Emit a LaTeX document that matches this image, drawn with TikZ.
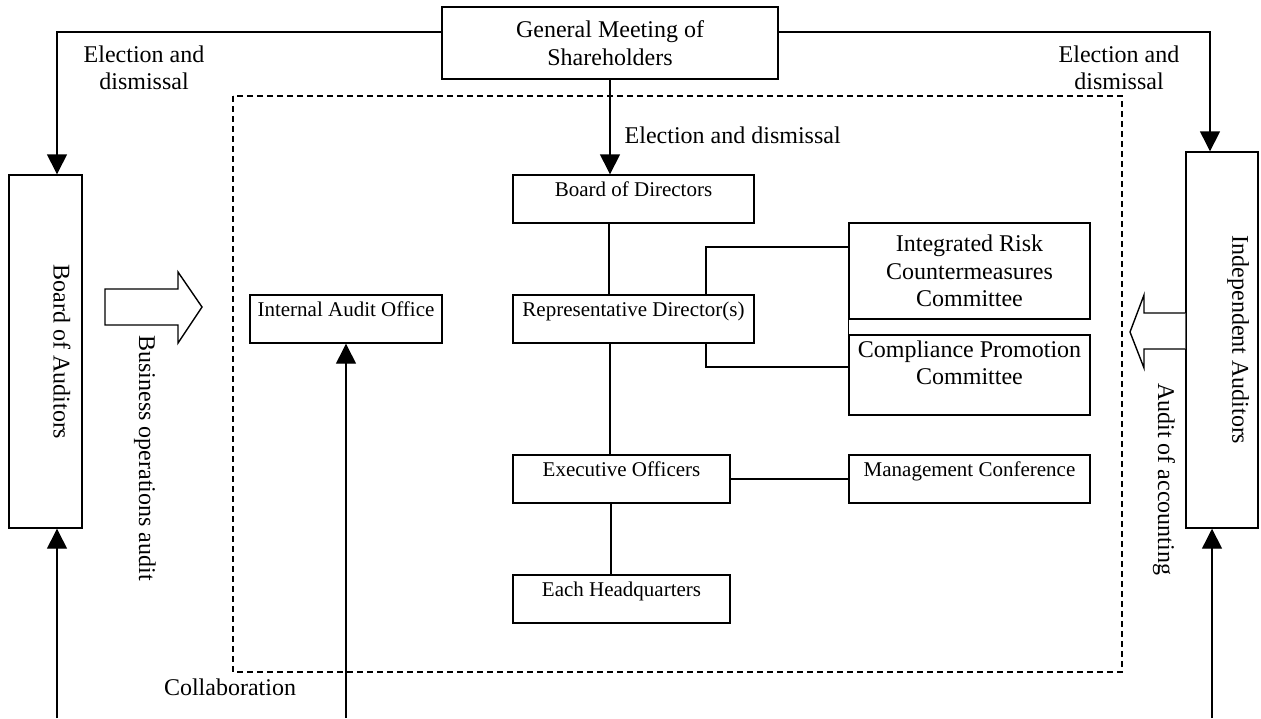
\documentclass[tikz,border=0pt]{standalone}
\usepackage{fontspec}
\setmainfont{Liberation Serif}
\usetikzlibrary{calc}
\usetikzlibrary{arrows.meta}
\tikzstyle{orgbox}=[draw,line width=.7pt,inner sep=0pt]
\tikzstyle{unit}=[orgbox,font=\fontsize{10.5}{12}\selectfont,text height=10.5pt,text depth=13.5pt]
\tikzstyle{panel}=[orgbox,font=\fontsize{12}{13.75}\selectfont,align=center]
\tikzstyle{lbl}=[inner sep=0pt,font=\fontsize{12}{13.5}\selectfont,align=center]
\tikzstyle{vlbl}=[lbl,rotate=-90]
\tikzstyle{auditframe}=[dash pattern=on 3pt off 2pt,line width=.7pt]
\tikzstyle{hollow}=[draw,line width=.7pt,fill=white]

\begin{document}
\begin{tikzpicture}[x=.5pt,y=-.5pt,line width=.7pt,>={Triangle[length=10pt,width=10pt]}]
	\useasboundingbox (0,0) rectangle (1261,718);
	\draw[auditframe] (233,96) rectangle (1122,672);
	\node[panel,minimum width=168pt,minimum height=36pt] (gms) at (610,43) {General Meeting of\\Shareholders};
	\node[unit,minimum width=120.5pt] (bod) at (633.5,199) {Board of Directors};
	\node[unit,minimum width=120.5pt] (rd) at (633.5,319) {Representative Director(s)};
	\node[unit,minimum width=108.5pt] (eo) at (621.5,479) {Executive Officers};
	\node[unit,minimum width=108.5pt] (eh) at (621.5,599) {Each Headquarters};
	\node[unit,minimum width=120.5pt] (mc) at (969.5,479) {Management Conference};
	\node[unit,minimum width=96pt] (iao) at (346,319) {Internal Audit Office};
	\node[panel,minimum width=120.5pt,minimum height=48pt] (ircc) at (969.5,271) {Integrated Risk\\Countermeasures\\Committee};
	\node[panel,minimum width=120.5pt,text height=24.75pt,text depth=15.25pt] (cpc) at (969.5,375) {Compliance Promotion\\Committee};
	\node[orgbox,minimum width=36.5pt,minimum height=176.5pt] (boa) at (45.5,351.5) {};
		\node[vlbl] (boatxt) at (62,352) {Board of Auditors};
	\node[orgbox,minimum width=36pt,minimum height=188pt] (ia) at (1222,340) {};
		\node[vlbl] (iatxt) at (1238,340) {Independent Auditors};
	\node[lbl] (elleft) at (144,68) {Election and\\dismissal};
	\node[lbl] (elright) at (1119,68) {Election and\\dismissal};
	\node[lbl,anchor=west] (elmid) at (624,135) {Election and dismissal};
	\node[vlbl] (opaudit) at (145,458) {Business operations audit};
	\node[vlbl] (accaudit) at (1164,479) {Audit of accounting};
	\node[lbl] (collab) at (230,687) {Collaboration};
	\coordinate (boafoot) at (57,718);
	\coordinate (iaofoot) at (346,718);
	\coordinate (iafoot) at (1212,718);
	\draw[->] (gms.west |- 0,32) -| (57,0 |- boa.north);
	\draw[->] (gms.east |- 0,32) -| (1210,0 |- ia.north);
	\draw (rd.north -| 706,0) |- (ircc.west |- 0,247);
	\draw (rd.south -| 706,0) |- (cpc.west |- 0,367);
	\path
		(gms.south)		edge[->]	(gms.south |- bod.north)
		(bod.south -| 609,0)	edge	(rd.north -| 609,0)
		(rd.south -| 610,0)	edge	(eo.north -| 610,0)
		(eo.south -| 611,0)	edge	(eh.north -| 611,0)
		(eo.east)		edge	(mc.west)
		(ircc.south west)	edge	(cpc.north west)
		(boafoot)		edge[->]	(boafoot |- boa.south)
		(iaofoot)		edge[->]	(iao.south)
		(iafoot)		edge[->]	(iafoot |- ia.south);
	\draw[hollow] (105,289) -- (178,289) -- (178,272) -- (202,307) -- (178,343) -- (178,325) -- (105,325) -- cycle;
	\draw[hollow] (ia.west |- 0,313) -- (1144,313) -- (1144,295) -- (1130,332) -- (1144,368) -- (1144,349) -- (ia.west |- 0,349);
\end{tikzpicture}
\end{document}
